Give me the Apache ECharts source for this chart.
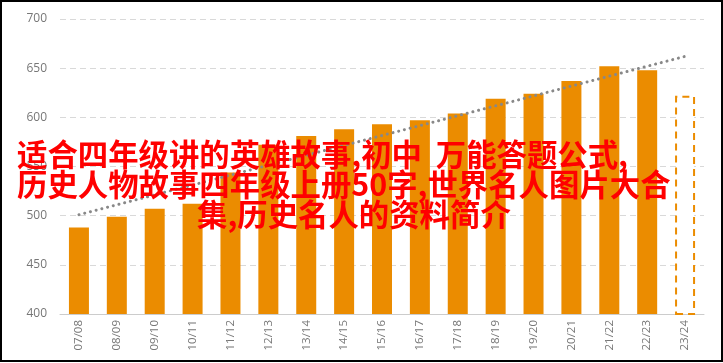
<!DOCTYPE html>
<html>
<head>
<meta charset="utf-8">
<script src="https://cdn.jsdelivr.net/npm/echarts@6/dist/echarts.min.js"></script>
<style>
html,body{margin:0;padding:0;background:#fff;}
#c{width:723px;height:363px;}
</style>
</head>
<body>
<div id="c"></div>
<script>
var categories = ['07/08','08/09','09/10','10/11','11/12','12/13','13/14','14/15','15/16','16/17','17/18','18/19','19/20','20/21','21/22','22/23','23/24'];
var values = [488, 499, 507, 512, 544, 572, 581, 588, 593, 597, 604, 619, 624, 637, 652, 648, 622];
var trendValues = [501, null, null, null, null, null, null, null, null, null, null, null, null, null, null, null, 662];
var yTicks = [400, 450, 500, 550, 600, 650, 700];
var overlayLines = ['适合四年级讲的英雄故事,初中  万能答题公式,', '历史人物故事四年级上册50字,世界名人图片大合', '集,历史名人的资料简介'];

var orange = '#EB8C00';
var barData = values.map(function (v, i) {
  if (i === values.length - 1) {
    return {value: v, itemStyle: {color: '#fff', borderColor: orange, borderWidth: 2, borderType: [7, 5]}};
  }
  return v;
});

var chart = echarts.init(document.getElementById('c'));
chart.setOption({
  animation: false,
  grid: {left: 60, right: 19, top: 19, bottom: 49},
  xAxis: {
    type: 'category',
    data: categories,
    axisTick: {show: false},
    axisLine: {lineStyle: {color: '#cccccc', width: 1}},
    axisLabel: {rotate: 90, color: '#777', fontSize: 11.5, margin: 6, fontFamily: 'Open Sans'}
  },
  yAxis: {
    type: 'value',
    min: yTicks[0],
    max: yTicks[yTicks.length - 1],
    interval: 50,
    axisLine: {show: false},
    axisTick: {show: false},
    axisLabel: {color: '#777', fontSize: 12, margin: 13, fontFamily: 'Open Sans'},
    splitLine: {lineStyle: {color: '#d9d9d9', type: [6, 4], width: 1}}
  },
  series: [
    {
      type: 'bar',
      data: barData,
      barWidth: 20,
      itemStyle: {color: orange}
    },
    {
      type: 'line',
      data: trendValues,
      connectNulls: true,
      symbol: 'none',
      lineStyle: {color: '#888', width: 3, type: [0.1, 5.8], cap: 'round'},
      z: 5
    }
  ],
  graphic: [
    {type: 'rect', shape: {x: 1, y: 1, width: 721, height: 360}, style: {fill: 'none', stroke: '#000', lineWidth: 2}, z: 100},
    {type: 'text', left: 17, top: 139, style: {text: overlayLines[0], fill: '#ff0000', font: 'bold 30.4px "Noto Sans CJK SC"'}, z: 50},
    {type: 'text', left: 17, top: 169, style: {text: overlayLines[1], fill: '#ff0000', font: 'bold 30.4px "Noto Sans CJK SC"'}, z: 50},
    {type: 'text', left: 197, top: 199, style: {text: overlayLines[2], fill: '#ff0000', font: 'bold 30.4px "Noto Sans CJK SC"'}, z: 50}
  ]
});
</script>
</body>
</html>
